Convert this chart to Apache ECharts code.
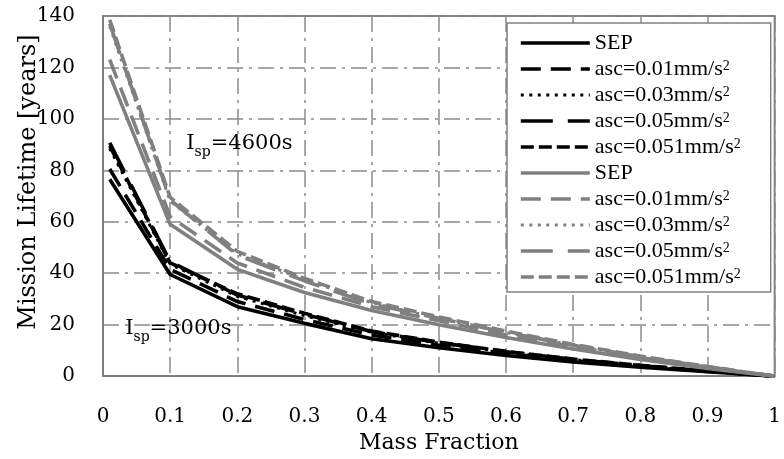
<!DOCTYPE html>
<html>
<head>
<meta charset="utf-8">
<script src="https://cdn.jsdelivr.net/npm/echarts@6/dist/echarts.min.js"></script>
<style>
  html, body { margin: 0; padding: 0; background: #fff; }
  #chart { width: 784px; height: 459px; }
</style>
</head>
<body>
<div id="chart"></div>
<script>
// Mass fraction sample points (x axis)
const massFraction = [0.01, 0.1, 0.2, 0.3, 0.4, 0.5, 0.6, 0.7, 0.8, 0.9, 1.0];

// Mission lifetime [years], Isp = 3000 s
const sep3000   = [76.5, 39.5, 27.0, 20.5, 14.5, 11.0, 8.0, 5.5, 3.5, 1.7, 0];
const asc01_3000  = [80.5, 41.5, 29.0, 22.0, 16.0, 12.0, 8.8, 6.0, 3.8, 1.8, 0];
const asc03_3000  = [88.5, 43.5, 31.0, 23.5, 17.0, 12.8, 9.3, 6.4, 4.0, 1.9, 0];
const asc05_3000  = [90.7, 44.5, 31.5, 24.0, 17.3, 13.0, 9.5, 6.5, 4.1, 2.0, 0];
const asc051_3000 = [89.5, 44.0, 32.0, 24.4, 17.5, 13.2, 9.6, 6.6, 4.2, 2.0, 0];

// Mission lifetime [years], Isp = 4600 s
const sep4600   = [117.0, 59.0, 41.5, 32.5, 25.5, 20.0, 15.0, 10.5, 6.5, 3.0, 0];
const asc01_4600  = [123.0, 62.0, 44.0, 34.5, 27.0, 21.5, 16.0, 11.5, 7.2, 3.4, 0];
const asc03_4600  = [136.0, 68.0, 47.5, 37.5, 28.5, 22.5, 17.0, 12.0, 7.5, 3.6, 0];
const asc05_4600  = [137.0, 68.5, 47.0, 37.0, 28.0, 22.5, 17.0, 12.0, 7.5, 3.6, 0];
const asc051_4600 = [138.5, 69.5, 48.5, 38.0, 29.0, 23.0, 17.5, 12.3, 7.8, 3.7, 0];

// Legend captions (superscript via rich text)
const captions = ['SEP', 'asc=0.01mm/s{sup|2}', 'asc=0.03mm/s{sup|2}', 'asc=0.05mm/s{sup|2}', 'asc=0.051mm/s{sup|2}'];

// Axis ranges and ticks
const xMin = 0, xMax = 1, xStep = 0.1;
const yMin = 0, yMax = 140, yStep = 20;

const BLACK = '#000000';
const GRAY = '#808080';
const GRID_GRAY = '#8a8a8a';

// solid, dashed, dotted, long dash, short dash
const dashStyles = ['solid', [20, 10], [3, 5.5], [32, 15], [13, 5]];
const lineWidths = [3.6, 3.6, 3, 3.6, 3.6];

const groups = [
  { tag: '3000 s', color: BLACK, sets: [sep3000, asc01_3000, asc03_3000, asc05_3000, asc051_3000] },
  { tag: '4600 s', color: GRAY, sets: [sep4600, asc01_4600, asc03_4600, asc05_4600, asc051_4600] }
];

const series = [];
const labelByName = {};
groups.forEach(g => {
  g.sets.forEach((vals, i) => {
    const name = captions[i] + ' (' + g.tag + ')';
    labelByName[name] = captions[i];
    series.push({
      name: name,
      type: 'line',
      symbol: 'none',
      silent: true,
      z: 3,
      lineStyle: { color: g.color, width: lineWidths[i], type: dashStyles[i] },
      itemStyle: { color: g.color, opacity: 0 },
      data: massFraction.map((x, k) => [x, vals[k]])
    });
  });
});

const chart = echarts.init(document.getElementById('chart'), null, { renderer: 'canvas' });

const axisFont = 'DejaVu Serif';
const legendFont = 'Liberation Serif';

chart.setOption({
  animation: false,
  backgroundColor: '#ffffff',
  grid: {
    left: 103, right: 5, top: 16, bottom: 77,
    show: true, borderColor: GRAY, borderWidth: 2, backgroundColor: 'transparent'
  },
  xAxis: {
    type: 'value', min: xMin, max: xMax, interval: xStep,
    name: 'Mass Fraction', nameLocation: 'middle', nameGap: 47,
    nameTextStyle: { fontFamily: axisFont, fontSize: 22, color: '#000' },
    axisLine: { show: true, lineStyle: { color: GRAY, width: 2 } },
    axisTick: { show: false },
    axisLabel: {
      margin: 31, fontFamily: axisFont, fontSize: 20, color: '#000',
      formatter: v => String(Number(v.toFixed(1)))
    },
    splitLine: { show: true, lineStyle: { color: GRID_GRAY, width: 1.5, type: [16, 6, 3, 6] } }
  },
  yAxis: {
    type: 'value', min: yMin, max: yMax, interval: yStep,
    name: 'Mission Lifetime [years]', nameLocation: 'middle', nameGap: 62, nameRotate: 90,
    nameMoveOverlap: false,
    nameTextStyle: { fontFamily: axisFont, fontSize: 24, color: '#000', padding: [0, 0, 0, 28] },
    axisLine: { show: true, lineStyle: { color: GRAY, width: 2 } },
    axisTick: { show: false },
    axisLabel: { margin: 28, fontFamily: axisFont, fontSize: 20, color: '#000' },
    splitLine: { show: true, lineStyle: { color: GRID_GRAY, width: 1.5, type: [16, 6, 3, 6] } }
  },
  legend: {
    orient: 'vertical',
    left: 507, top: 23,
    padding: [9, 30, 4, 12],
    itemWidth: 69, itemHeight: 14, itemGap: 4,
    backgroundColor: '#ffffff',
    borderColor: GRAY, borderWidth: 1.5, borderRadius: 0,
    selectedMode: false,
    itemStyle: { opacity: 0 },
    lineStyle: { width: 'inherit' },
    formatter: name => labelByName[name],
    textStyle: {
      fontFamily: legendFont, fontSize: 22, color: '#000', lineHeight: 20,
      rich: {
        sup: { fontFamily: legendFont, fontSize: 14, verticalAlign: 'top', lineHeight: 12 }
      }
    },
    data: series.map(s => s.name)
  },
  series: series
});

// Specific-impulse annotations placed in data coordinates
const annotations = [
  { at: [0.124, 90], text: '{m|I}{s|sp}{m|=4600s}' },
  { at: [0.033, 18], text: '{m|I}{s|sp}{m|=3000s}' }
];

chart.setOption({
  graphic: annotations.map(a => {
    const p = chart.convertToPixel({ gridIndex: 0 }, a.at);
    return {
      type: 'text', left: p[0], top: p[1] - 12, z: 10, silent: true,
      style: {
        text: a.text,
        rich: {
          m: { fontFamily: axisFont, fontSize: 21, fill: '#000', lineHeight: 24, verticalAlign: 'bottom' },
          s: { fontFamily: axisFont, fontSize: 14, fill: '#000', lineHeight: 24, verticalAlign: 'bottom', padding: [0, 0, -6, 0] }
        }
      }
    };
  })
});
</script>
</body>
</html>
